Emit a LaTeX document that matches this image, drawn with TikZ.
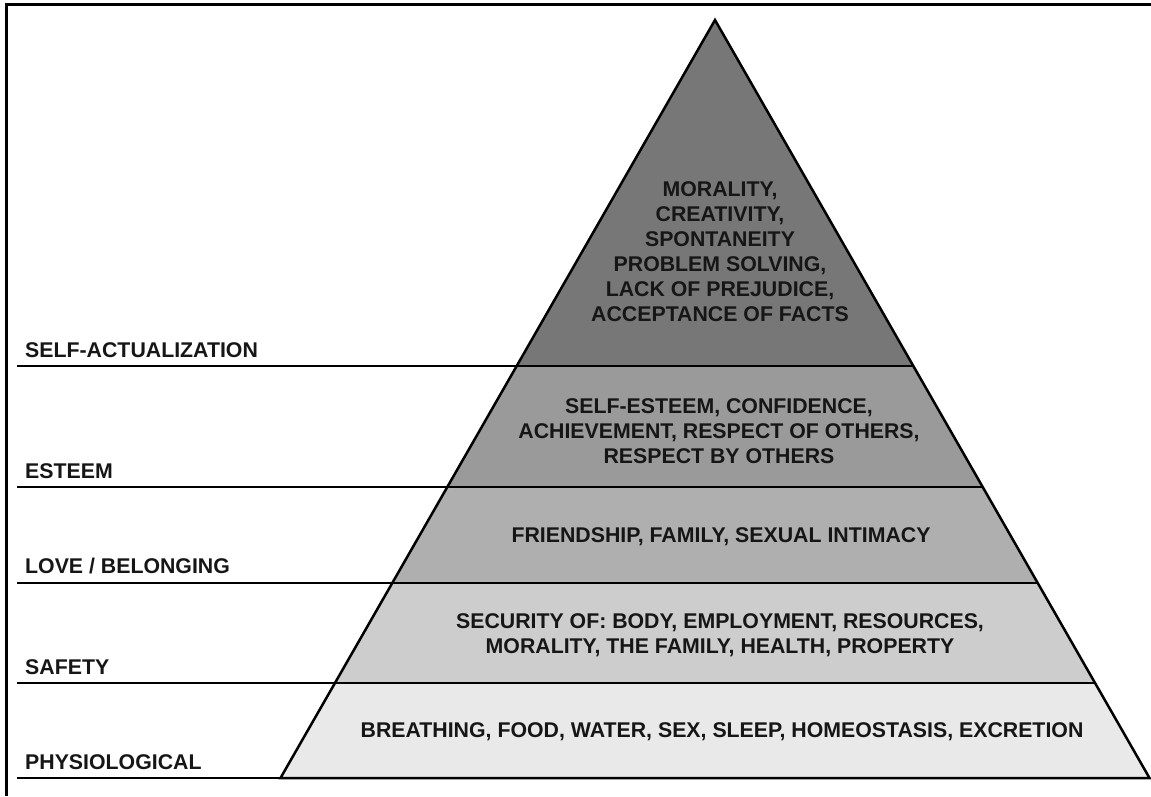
\documentclass[tikz,border=0pt]{standalone}
\usepackage{fontspec}
\setmainfont{Liberation Sans}
\usetikzlibrary{calc}

\definecolor{tierA}{HTML}{777777}
\definecolor{tierB}{HTML}{9A9A9A}
\definecolor{tierC}{HTML}{AFAFAF}
\definecolor{tierD}{HTML}{CDCDCD}
\definecolor{tierE}{HTML}{E9E9E9}
\definecolor{ink}{HTML}{161616}

\tikzset{
  outline/.style={draw=black, line width=2.5pt, line join=miter},
  rule/.style={draw=black, line width=2.2pt},
  need/.style={font=\bfseries\fontsize{21.3}{25}\selectfont, align=center, text=ink, inner sep=0pt},
  level/.style={font=\bfseries\fontsize{21.3}{25}\selectfont, anchor=base west, text=ink, inner sep=0pt}
}

\begin{document}
\begin{tikzpicture}[x=1pt,y=-1pt]
  \useasboundingbox (0,0) rectangle (1151,796);

  % frame
  \draw[line width=3pt] (6,796) -- (6,4.5) -- (1151,4.5);

  \coordinate (apex) at (715,20);
  \coordinate (bl) at (280.5,778);
  \coordinate (br) at (1149.5,778);
  \coordinate (edge) at (17,0);

  % tier boundaries on the two sides
  \foreach \t/\n in {0.4565/a,0.6161/b,0.7427/c,0.8747/d}{
    \coordinate (l\n) at ($(apex)!\t!(bl)$);
    \coordinate (r\n) at ($(apex)!\t!(br)$);
  }

  \fill[tierA] (apex) -- (ra) -- (la) -- cycle;
  \fill[tierB] (la) -- (ra) -- (rb) -- (lb) -- cycle;
  \fill[tierC] (lb) -- (rb) -- (rc) -- (lc) -- cycle;
  \fill[tierD] (lc) -- (rc) -- (rd) -- (ld) -- cycle;
  \fill[tierE] (ld) -- (rd) -- (br) -- (bl) -- cycle;

  \draw[rule] (la -| edge) -- (ra);
  \draw[rule] (lb -| edge) -- (rb);
  \draw[rule] (lc -| edge) -- (rc);
  \draw[rule] (ld -| edge) -- (rd);
  \draw[rule] (bl -| edge) -- (br);
  \draw[outline] (apex) -- (br) -- (bl) -- cycle;

  % needs
  \node[need] (selfneeds) at (720,252) {MORALITY,\\CREATIVITY,\\SPONTANEITY\\PROBLEM SOLVING,\\LACK OF PREJUDICE,\\ACCEPTANCE OF FACTS};
  \node[need] (esteemneeds) at (719,431) {SELF-ESTEEM, CONFIDENCE,\\ACHIEVEMENT, RESPECT OF OTHERS,\\RESPECT BY OTHERS};
  \node[need] (loveneeds) at (721,537) {FRIENDSHIP, FAMILY, SEXUAL INTIMACY};
  \node[need] (safetyneeds) at (720,635) {SECURITY OF: BODY, EMPLOYMENT, RESOURCES,\\MORALITY, THE FAMILY, HEALTH, PROPERTY};
  \node[need] (bodyneeds) at (722,732) {BREATHING, FOOD, WATER, SEX, SLEEP, HOMEOSTASIS, EXCRETION};

  % levels
  \node[level] (selfact) at ($(la -| edge)+(8,-9)$) {SELF-ACTUALIZATION};
  \node[level] (esteem) at ($(lb -| edge)+(8,-9)$) {ESTEEM};
  \node[level] (love) at ($(lc -| edge)+(8,-9)$) {LOVE / BELONGING};
  \node[level] (safety) at ($(ld -| edge)+(8,-9)$) {SAFETY};
  \node[level] (physio) at ($(bl -| edge)+(8,-9)$) {PHYSIOLOGICAL};
\end{tikzpicture}
\end{document}
